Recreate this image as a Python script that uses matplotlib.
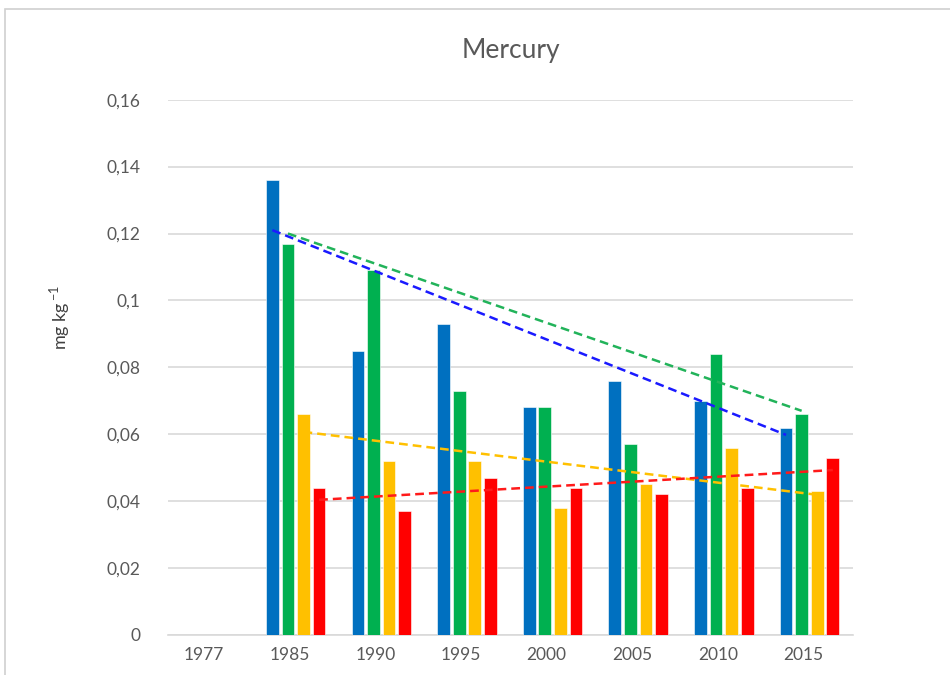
import numpy as np
import matplotlib.pyplot as plt
from matplotlib.patches import Rectangle

plt.rcParams["font.family"] = ["Lato", "DejaVu Sans"]

years = ["1977", "1985", "1990", "1995", "2000", "2005", "2010", "2015"]
series_names = ["blue", "green", "yellow", "red"]

# mg/kg, no data for 1977
blue = [np.nan, 0.136, 0.085, 0.093, 0.068, 0.076, 0.070, 0.062]
green = [np.nan, 0.117, 0.109, 0.073, 0.068, 0.057, 0.084, 0.066]
yellow = [np.nan, 0.066, 0.052, 0.052, 0.038, 0.045, 0.056, 0.043]
red = [np.nan, 0.044, 0.037, 0.047, 0.044, 0.042, 0.044, 0.053]

# linear trendline values at 1985 and 2015
trend_start = [0.121, 0.120, 0.0607, 0.0404]
trend_end = [0.0598, 0.067, 0.0419, 0.0493]

y_ticks = [0, 0.02, 0.04, 0.06, 0.08, 0.1, 0.12, 0.14, 0.16]
y_tick_labels = ["0", "0,02", "0,04", "0,06", "0,08", "0,1", "0,12", "0,14", "0,16"]

bar_colors = ["#0070C0", "#00B050", "#FFC000", "#FF0000"]
trend_colors = ["#1A1AFF", "#22B35A", "#FFC000", "#FF1A1A"]

fig = plt.figure(figsize=(9.5, 6.75), dpi=100)
ax = fig.add_axes([0.177, 0.0593, 0.721, 0.793])

fig.patches.append(Rectangle((0.005, -0.01), 1.1, 0.996, transform=fig.transFigure,
                             fill=False, edgecolor="#d0d0d0", linewidth=1.2))

x = np.arange(len(years))
width = 0.148
pitch = 0.182
offsets = (np.arange(4) - 1.5) * pitch + 0.07

for i, vals in enumerate([blue, green, yellow, red]):
    ax.bar(x + offsets[i], vals, width=width, color=bar_colors[i],
           edgecolor="white", linewidth=0.4, zorder=3)
    ax.plot([x[1] + offsets[i], x[-1] + offsets[i]], [trend_start[i], trend_end[i]],
            linestyle=(0, (3.5, 2)), color=trend_colors[i], linewidth=1.8, zorder=4)

ax.set_xlim(-0.42, len(years) - 0.42)
ax.set_ylim(0, 0.16)
ax.set_yticks(y_ticks)
ax.set_yticklabels(y_tick_labels)
ax.set_xticks(x)
ax.set_xticklabels(years)
ax.tick_params(axis="both", length=0, labelsize=12.5, colors="#595959")
ax.tick_params(axis="y", pad=20)
ax.tick_params(axis="x", pad=9)
ax.grid(axis="y", color="#d9d9d9", linewidth=1.2, zorder=0)
for s in ["top", "right", "left"]:
    ax.spines[s].set_visible(False)
ax.spines["bottom"].set_color("#d9d9d9")
ax.spines["bottom"].set_linewidth(1.2)

ax.set_title("Mercury", fontsize=19, color="#595959", pad=30)
fig.text(0.063, 0.53, "mg kg$^{\\,\\mathregular{-1}}$", rotation=90, fontsize=13,
         color="#404040", ha="center", va="center")

fig.savefig("out.png", dpi=100)
